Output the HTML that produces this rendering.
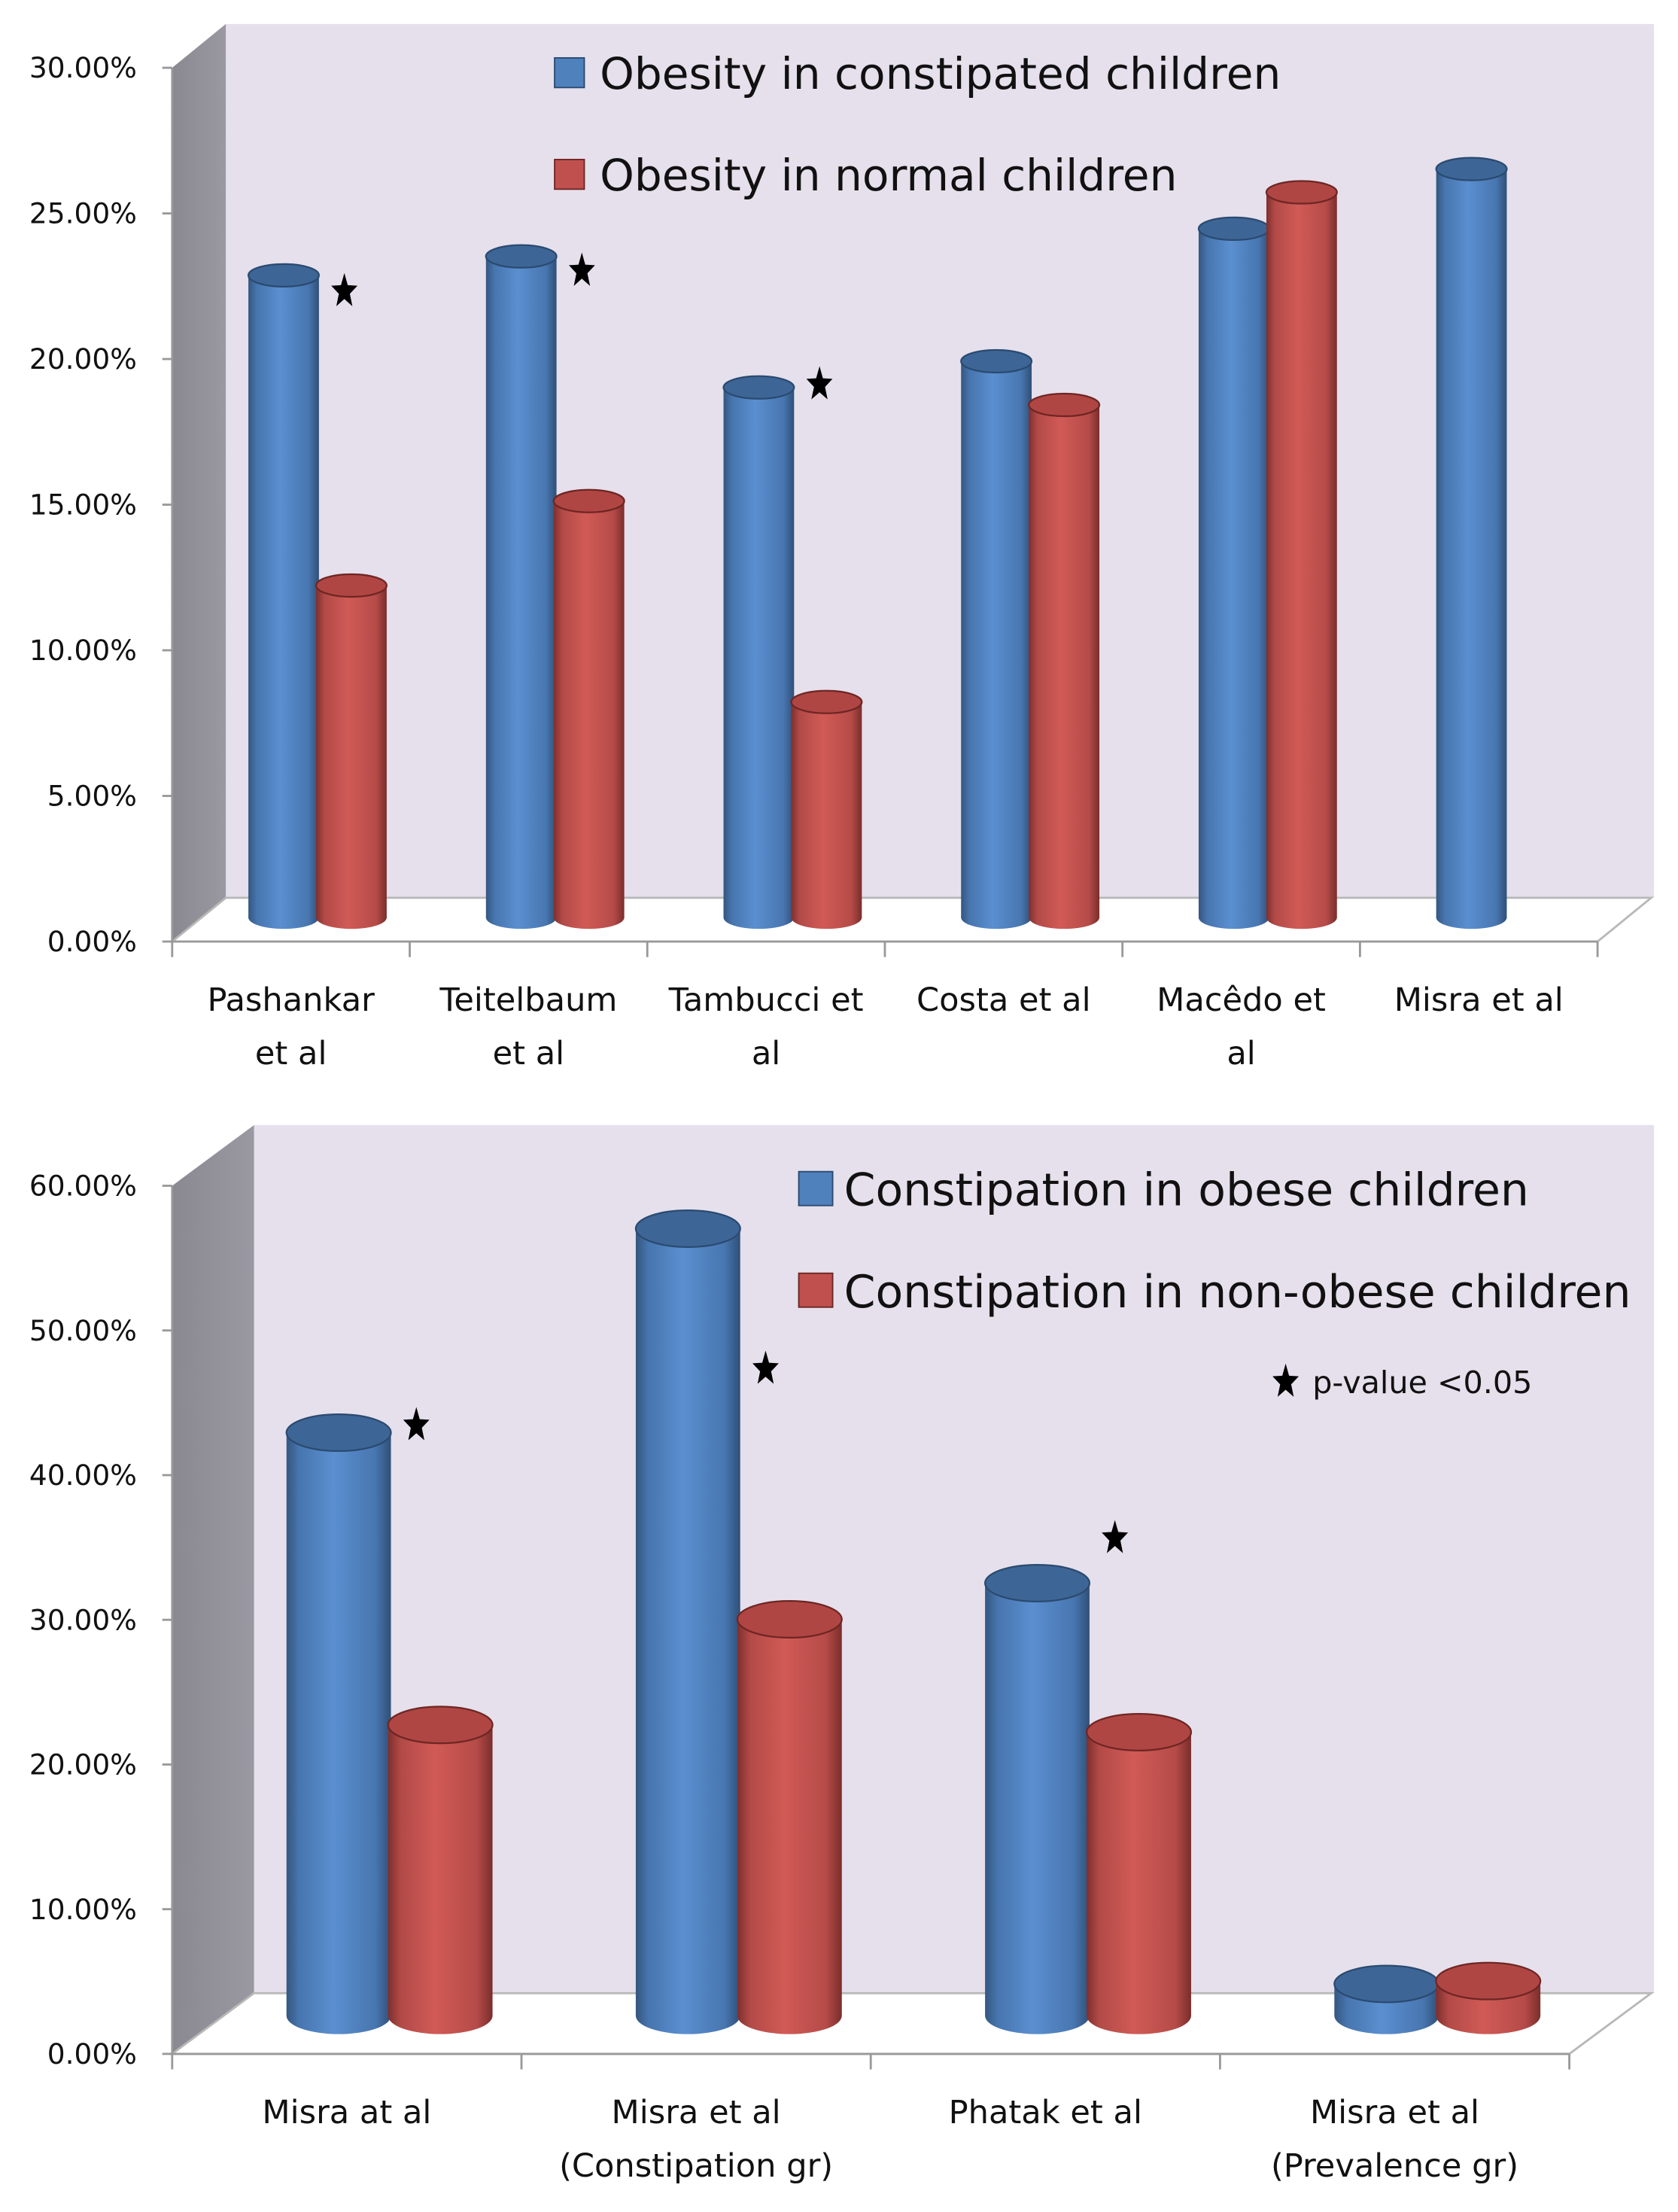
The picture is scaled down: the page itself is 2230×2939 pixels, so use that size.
<!DOCTYPE html>
<html><head><meta charset="utf-8"><style>
html,body{margin:0;padding:0;background:#fff;}
svg{display:block;font-family:"DejaVu Sans","Liberation Sans",sans-serif;}
</style></head><body>
<svg id="chart" width="2230" height="2939" viewBox="0 0 1189 1567" xmlns="http://www.w3.org/2000/svg">
<defs>
<linearGradient id="gBlue" x1="0" x2="1" y1="0" y2="0">
<stop offset="0" stop-color="#34567f"/><stop offset="0.12" stop-color="#4775ae"/><stop offset="0.45" stop-color="#5a8fd0"/><stop offset="0.85" stop-color="#4876b0"/><stop offset="1" stop-color="#2f4f78"/></linearGradient>
<linearGradient id="gRed" x1="0" x2="1" y1="0" y2="0">
<stop offset="0" stop-color="#7e2f2d"/><stop offset="0.12" stop-color="#b24a47"/><stop offset="0.45" stop-color="#d15a56"/><stop offset="0.85" stop-color="#b54b48"/><stop offset="1" stop-color="#7a2d2b"/></linearGradient>
<linearGradient id="gSide" x1="0" x2="1"><stop offset="0" stop-color="#8a8890"/><stop offset="1" stop-color="#9a98a0"/></linearGradient>
</defs>
<g id="topChart"></g>
<g id="botChart"></g>
</svg>
<script>
// Top chart data
const topCategories = [["Pashankar","et al"],["Teitelbaum","et al"],["Tambucci et","al"],["Costa et al"],["Macêdo et","al"],["Misra et al"]];
const topBlue = [22.05, 22.7, 18.2, 19.1, 23.65, 25.7];
const topRed = [11.4, 14.3, 7.4, 17.6, 24.9, null];
const topTicks = ["0.00%","5.00%","10.00%","15.00%","20.00%","25.00%","30.00%"];
const topStarVals = [21.5, 22.2, 18.3, null, null, null];
// Bottom chart data
const botCategories = [["Misra at al"],["Misra et al","(Constipation gr)"],["Phatak et al"],["Misra et al","(Prevalence gr)"]];
const botBlue = [40.3, 54.4, 29.9, 2.2];
const botRed = [20.1, 27.4, 19.6, 2.4];
const botTicks = ["0.00%","10.00%","20.00%","30.00%","40.00%","50.00%","60.00%"];
const botStarVals = [40.8, 44.7, 33.0, null];

const NS="http://www.w3.org/2000/svg";
function mk(parent,tag,attrs){const e=document.createElementNS(NS,tag);for(const k in attrs)e.setAttribute(k,attrs[k]);parent.appendChild(e);return e;}
function txt(parent,x,y,s,size,anchor){const t=mk(parent,'text',{x:x,y:y,'font-size':size,'text-anchor':anchor||'start',fill:'#111'});t.textContent=s;return t;}
function star(parent,cx,cy,r){let p=[];for(let i=0;i<10;i++){const a=-Math.PI/2+i*Math.PI/5;const rr=i%2?r*0.42:r;p.push((cx+rr*Math.cos(a)*0.75).toFixed(1)+','+(cy+rr*Math.sin(a)).toFixed(1));}return mk(parent,'polygon',{points:p.join(' '),fill:'#000'});}

function drawChart(g,cfg){
  const {x0,x1,yFront0,yFrontTop,dx,dy,ticks,maxV,cats,blue,red,stars,barW,ry,barOff,base,labelSize,labelGap,tickSize} = cfg;
  const yBackTop=yFrontTop-dy, yBack0=yFront0-dy;
  const wall=mk(g,'rect',{x:x0+dx,y:yBackTop,width:1172-(x0+dx),height:yBack0-yBackTop,fill:'#e5e0ec'});
  
  
  const side=mk(g,'polygon',{points:`${x0},${yFrontTop} ${x0+dx},${yBackTop} ${x0+dx},${yBack0} ${x0},${yFront0}`,fill:'url(#gSide)'});
  
  
  const floor=mk(g,'polygon',{points:`${x0},${yFront0} ${x0+dx},${yBack0} ${x1+dx},${yBack0} ${x1},${yFront0}`,fill:'#fff',stroke:'#b8b8b8','stroke-width':1.5});
  
  
  const yf=v=>yFront0-(yFront0-yFrontTop)*v/maxV;
  const ax=mk(g,'line',{x1:x0,y1:yFrontTop,x2:x0,y2:yFront0,stroke:'#999','stroke-width':1.5});
  
  
  ticks.forEach((t,i)=>{const v=i*maxV/(ticks.length-1);const y=yf(v);
    mk(g,'line',{x1:x0-7,y1:y,x2:x0,y2:y,stroke:'#999','stroke-width':1.5});
    const l=txt(g,x0-25,y+7,t,tickSize,'end');
    
    });
  const n=cats.length, cw=(x1-x0)/n;
  const xa=mk(g,'line',{x1:x0,y1:yFront0,x2:x1,y2:yFront0,stroke:'#999','stroke-width':1.5});
  
  
  for(let i=0;i<=n;i++){mk(g,'line',{x1:x0+i*cw,y1:yFront0,x2:x0+i*cw,y2:yFront0+11,stroke:'#999','stroke-width':1.5});}
  const scale=(yFront0-yFrontTop)/maxV;
  cats.forEach((c,i)=>{
    c.forEach((s,j)=>{const l=txt(g,x0+(i+0.5)*cw,yFront0+49+j*labelGap,s,labelSize,'middle');
      
      });
    const gx=x0+i*cw+barOff;
    [[blue[i],'url(#gBlue)','#3d6697','#2b4a70','bar-blue'],[red[i],'url(#gRed)','#b04643','#6e2624','bar-red']].forEach((b,k)=>{
      if(b[0]==null)return;
      const bx=gx+k*(barW-2);
      const tp=base-b[0]*scale;
      const grp=mk(g,'g',{});
      
      
      mk(grp,'ellipse',{cx:bx+barW/2,cy:base,rx:barW/2,ry:ry,fill:b[1]});
      mk(grp,'rect',{x:bx,y:tp,width:barW,height:base-tp,fill:b[1]});
      mk(grp,'ellipse',{cx:bx+barW/2,cy:tp,rx:barW/2,ry:ry,fill:b[2],stroke:b[3],'stroke-width':1.2});
    });
    if(stars[i]!=null){const sy=base-stars[i]*scale;const s=star(g,gx+barW+cfg.starDx,sy,13);
      
      }
  });
}
const topG=document.getElementById('topChart');
drawChart(topG,{x0:122,x1:1132,yFront0:667,yFrontTop:48,dx:38,dy:31,ticks:topTicks,maxV:30,cats:topCategories,blue:topBlue,red:topRed,stars:topStarVals,barW:50,ry:8,barOff:54,base:650,labelSize:23,labelGap:38,tickSize:20,starDx:18});
[["#4f81bd","#2b4a70","Obesity in constipated children",52],["#c0504d","#6e2624","Obesity in normal children",124]].forEach(l=>{
  const r=mk(topG,'rect',{x:393,y:l[3]-11,width:21,height:21,fill:l[0],stroke:l[1],'stroke-width':1});
  
  
  const t=txt(topG,425,l[3]+11,l[2],31);
  
  
});
const botG=document.getElementById('botChart');
drawChart(botG,{x0:122,x1:1112,yFront0:1455,yFrontTop:840,dx:58,dy:43,ticks:botTicks,maxV:60,cats:botCategories,blue:botBlue,red:botRed,stars:botStarVals,barW:74,ry:13,barOff:81,base:1428,labelSize:23,labelGap:38,tickSize:20,starDx:18});
[["#4f81bd","#2b4a70","Constipation in obese children",842],["#c0504d","#6e2624","Constipation in non-obese children",914]].forEach(l=>{
  const r=mk(botG,'rect',{x:566,y:l[3]-12,width:24,height:24,fill:l[0],stroke:l[1],'stroke-width':1});
  
  
  const t=txt(botG,598,l[3]+12,l[2],32);
  
  
});
const ps=star(botG,911,979,13);


const pt=txt(botG,930,987,"p-value <0.05",22);


</script>
</body></html>
